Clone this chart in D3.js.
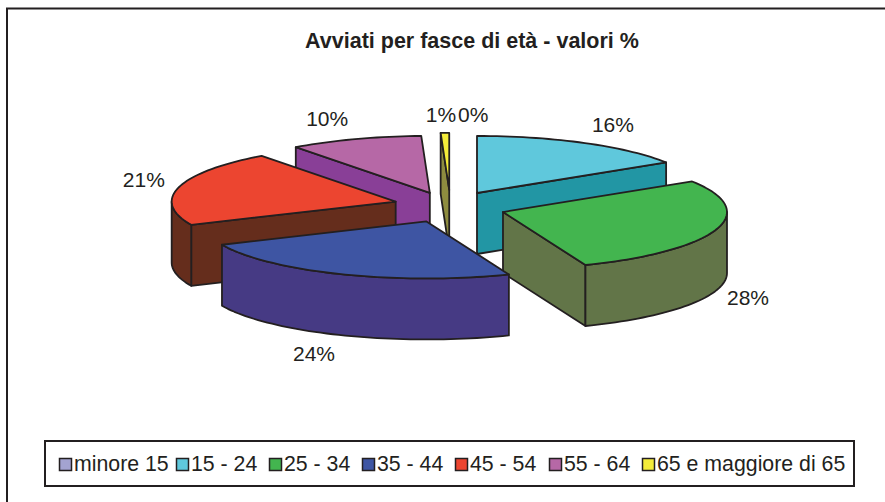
<!DOCTYPE html>
<html><head><meta charset="utf-8">
<script src="https://cdnjs.cloudflare.com/ajax/libs/d3/7.8.5/d3.min.js"></script>
<style>html,body{margin:0;padding:0;background:#fff}svg{display:block}text{font-family:"Liberation Sans",Arial,sans-serif;fill:#231f20}</style>
</head><body><svg id="c" width="885" height="502"></svg>
<script>
const categories=["minore 15","15 - 24","25 - 34","35 - 44","45 - 54","55 - 64","65 e maggiore di 65"];
const values=[0,16,28,24.3,21.49,9.6,0.61];
const labels=["0%","16%","28%","24%","21%","10%","1%"];
const topColors=["#a3a3d1","#5fc8dc","#43b54f","#3e55a3","#ec4530","#b668a6","#f4ec3a"];
const sideColors=["#6d6d9e","#2296a4","#627548","#463a84","#652d1c","#893f97","#8e8c3f"];
const title="Avviati per fasce di età - valori %";
const labelNudges=[[23,-18],[28,-19],[32,68],[-28,79],[-35,-7.5],[-28,-21],[-4,-18]];
const sliceNudges=[[0,0],[0,1],[0,0],[-3,-1],[-1,-1],[-2,2],[0,0]];
const drawOrder=[1,6,5,4,2,3];

const svg=d3.select("#c");
const ink="#231f20";
const cx=450.3,cy=206.8,rx=224,ry=57,depth=61,explodeX=55.4,explodeY=16.9;
svg.append("path").attr("d",d3.line()([[7,502],[7,8.5],[885,8.5]])).attr("fill","none").attr("stroke",ink).attr("stroke-width",2);
svg.append("text").attr("x",472).attr("y",48).attr("text-anchor","middle").attr("font-size",21.5).attr("font-weight","bold").text(title);

const pie=d3.pie().sort(null).value(d=>d);
const arcs=pie(values);
const pt=(a,b,ang,dy=0)=>[a+rx*Math.sin(ang),b-ry*Math.cos(ang)+dy];
function arcPts(a,b,s,e,dy=0){const n=Math.max(2,Math.ceil((e-s)/0.03));return d3.range(n+1).map(i=>pt(a,b,s+(e-s)*i/n,dy));}
const apex=(d,i)=>{const m=(d.startAngle+d.endAngle)/2;return [cx+explodeX*Math.sin(m)+sliceNudges[i][0],cy-explodeY*Math.cos(m)+sliceNudges[i][1]];};
const line=d3.line();
const g=svg.append("g").attr("stroke",ink).attr("stroke-width",1.8).attr("stroke-linejoin","round");
drawOrder.forEach(i=>{
  const d=arcs[i],s=d.startAngle,e=d.endAngle;
  const [ax,ay]=apex(d,i);
  const face=(ang)=>{const p=pt(ax,ay,ang);return line([[ax,ay],p,[p[0],p[1]+depth],[ax,ay+depth]])+"Z";};
  if(Math.cos(s-Math.PI/2)<-1e-6) g.append("path").attr("d",face(s)).attr("fill",sideColors[i]);
  if(Math.cos(e+Math.PI/2)<-1e-6) g.append("path").attr("d",face(e)).attr("fill",sideColors[i]);
  const ws=Math.max(s,Math.PI/2),we=Math.min(e,3*Math.PI/2);
  if(we>ws){const t=arcPts(ax,ay,ws,we),b=arcPts(ax,ay,ws,we,depth).reverse();
    g.append("path").attr("d",line(t.concat(b))+"Z").attr("fill",sideColors[i]);}
  g.append("path").attr("d",line([[ax,ay]].concat(arcPts(ax,ay,s,e)))+"Z").attr("fill",topColors[i]);
});
arcs.forEach((d,i)=>{
  const m=(d.startAngle+d.endAngle)/2;
  const [ax,ay]=apex(d,i);
  const p=pt(ax,ay,m);
  svg.append("text").attr("x",p[0]+labelNudges[i][0]).attr("y",p[1]+labelNudges[i][1]+7.5).attr("text-anchor","middle").attr("font-size",21).text(labels[i]);
});
// legend
svg.append("rect").attr("x",45).attr("y",441).attr("width",809).attr("height",45).attr("fill","#fff").attr("stroke",ink).attr("stroke-width",2);
const legendX=d3.scaleOrdinal().domain(categories).range([59,176,269,362,455,549,642]);
categories.forEach((c,i)=>{
  const x=legendX(c);
  svg.append("rect").attr("x",x+.5).attr("y",458.5).attr("width",12).attr("height",12).attr("fill",topColors[i]).attr("stroke",ink).attr("stroke-width",1.5);
  svg.append("text").attr("x",x+15).attr("y",471).attr("font-size",21.3).text(c);
});
</script></body></html>
